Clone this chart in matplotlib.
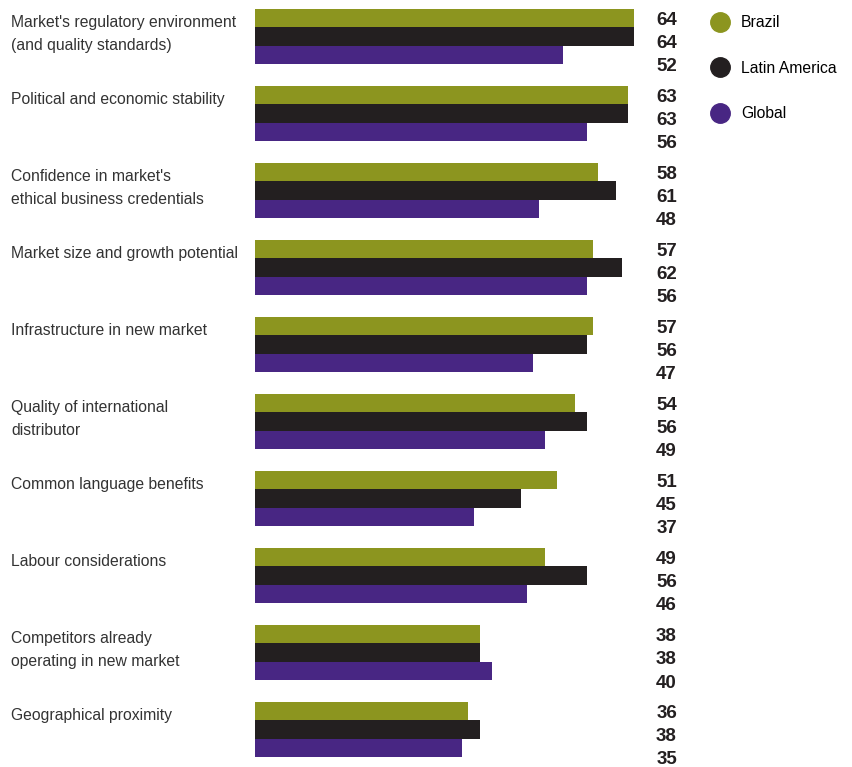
import numpy as np
import matplotlib
matplotlib.use('Agg')
import matplotlib.pyplot as plt
from matplotlib.lines import Line2D
from matplotlib.transforms import blended_transform_factory

matplotlib.rcParams['font.family'] = ['Liberation Sans', 'DejaVu Sans']

categories = [
    "Market's regulatory environment\n(and quality standards)",
    "Political and economic stability",
    "Confidence in market's\nethical business credentials",
    "Market size and growth potential",
    "Infrastructure in new market",
    "Quality of international\ndistributor",
    "Common language benefits",
    "Labour considerations",
    "Competitors already\noperating in new market",
    "Geographical proximity",
]
series_names = ['Brazil', 'Latin America', 'Global']
brazil = [64, 63, 58, 57, 57, 54, 51, 49, 38, 36]
latam = [64, 63, 61, 62, 56, 56, 45, 56, 38, 38]
global_ = [52, 56, 48, 56, 47, 49, 37, 46, 40, 35]
colors = ['#8c951f', '#231f20', '#482683']

W, H = 852, 767
fig = plt.figure(figsize=(W / 100, H / 100), dpi=100)

# bar axes: starts at x=255px, 64 units = 379px, full height
ax = fig.add_axes([255 / W, 0, 379 / W, 1])
ax.set_xlim(0, 64)
gap = 77.0
top0 = 36.5
ax.set_ylim((H - top0) / gap, -top0 / gap)
ax.axis('off')

y = np.arange(len(categories))
bh = 18.3 / gap
for k, (vals, c) in enumerate(zip([brazil, latam, global_], colors)):
    ax.barh(y + (k - 1) * bh, vals, height=bh, color=c, align='center')

# value labels + category labels
tr_lab = blended_transform_factory(fig.transFigure, ax.transData)
label_off = [-15.5 / gap, 7.5 / gap, 30.5 / gap]
for i in range(len(categories)):
    for k, vals in enumerate([brazil, latam, global_]):
        ax.text(677 / W, i + label_off[k], str(vals[i]),
                transform=tr_lab, ha='right', va='center', fontsize=13.5,
                fontweight='bold', color='#231f20')
    ax.text(11 / W, i - 27.5 / gap + 6 / gap, categories[i], transform=tr_lab,
            ha='left', va='top', fontsize=11.3, color='#333333', linespacing=1.63)

handles = [Line2D([], [], marker='o', ls='', color=c, markersize=14) for c in colors]
fig.legend(handles, series_names, loc='upper left', bbox_to_anchor=(711 / W, 1 - 15 / H),
           frameon=False, fontsize=11.3, labelspacing=1.95, handletextpad=0.7,
           borderaxespad=0, borderpad=0, handlelength=1.2)

fig.savefig('out.png', dpi=100)
